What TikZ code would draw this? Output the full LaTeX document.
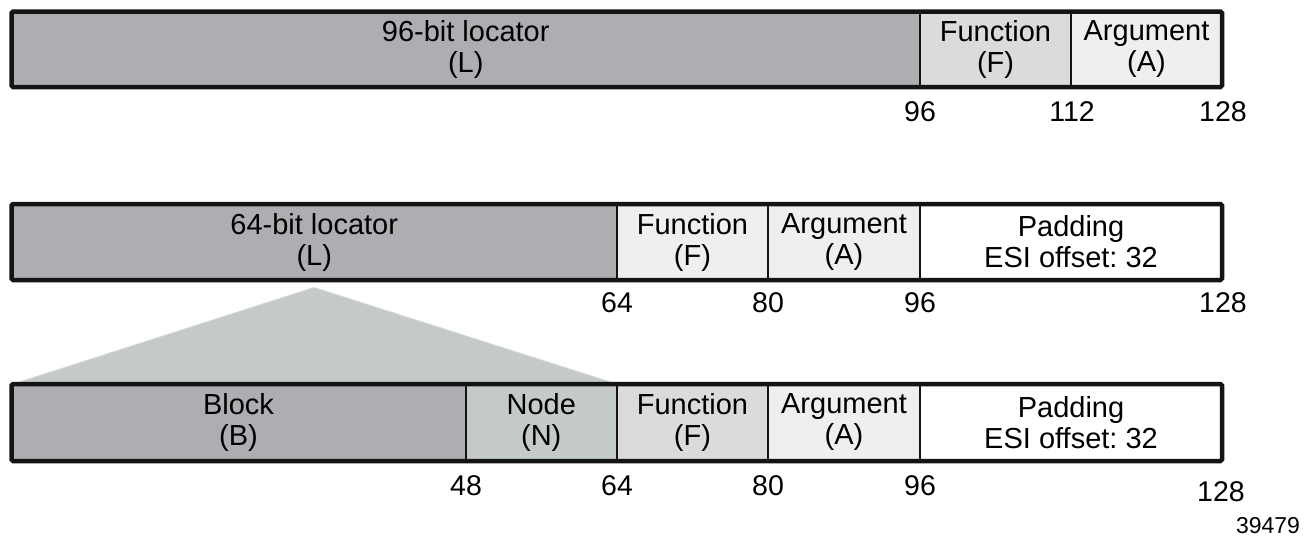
\documentclass[tikz,border=0pt]{standalone}
\usepackage{fontspec}
\setmainfont{Liberation Sans}
\frenchspacing
\definecolor{loccol}{HTML}{AEADB2}
\definecolor{nodecol}{HTML}{C4C9C9}
\definecolor{funcol}{HTML}{DBDBDB}
\definecolor{argcol}{HTML}{EFEFEF}
\definecolor{tricol}{HTML}{C4C9C9}
\definecolor{triedge}{HTML}{D6D9D9}
\definecolor{linecol}{HTML}{141414}
\begin{document}
\begin{tikzpicture}[x=1pt,y=-1pt,
  cell/.style={rectangle, inner sep=0pt, outer sep=0pt, align=center,
    font=\fontsize{29}{31}\selectfont},
  divider/.style={draw=linecol, line width=2pt},
  outerbox/.style={draw=linecol, line width=4.5pt, rounded corners=1.5pt},
  numlabel/.style={inner sep=0pt, font=\fontsize{28.5}{28.5}\selectfont},
  figid/.style={inner sep=0pt, font=\fontsize{23}{23}\selectfont},
  tri/.style={fill=tricol, draw=triedge, line width=2pt, line join=round}
]
\useasboundingbox (0,0) rectangle (1308,538);

% Row 1
\node[cell, fill=loccol, minimum width=908.5pt, minimum height=75.5pt] (L1) at (465.75,49.25) {96-bit locator\\(L)};
\node[cell, fill=funcol, minimum width=151pt, minimum height=75.5pt] (F1) at (995.5,49.25) {Function\\(F)};
\node[cell, fill=argcol, minimum width=151pt, minimum height=75.5pt] (A1) at (1146.5,49.25) {Argument\\(A)};
\draw[divider] (F1.north west) -- (F1.south west);
\draw[divider] (A1.north west) -- (A1.south west);
\draw[outerbox] (L1.north west) rectangle (A1.south east);
\node[numlabel] (n1a) at (920,112) {96};
\node[numlabel] (n1b) at (1072,112) {112};
\node[numlabel] (n1c) at (1223,112) {128};

% Row 2
\node[cell, fill=loccol, minimum width=605.5pt, minimum height=76pt] (L2) at (314.25,242) {64-bit locator\\(L)};
\node[cell, fill=argcol, minimum width=151pt, minimum height=76pt] (F2) at (692.5,242) {Function\\(F)};
\node[cell, fill=argcol, minimum width=152pt, minimum height=76pt] (A2) at (844,242) {Argument\\(A)};
\node[cell, fill=white, minimum width=302pt, minimum height=76pt] (P2) at (1071,242) {Padding\\ESI offset: 32};
\draw[divider] (F2.north west) -- (F2.south west);
\draw[divider] (A2.north west) -- (A2.south west);
\draw[divider] (P2.north west) -- (P2.south west);
\draw[outerbox] (L2.north west) rectangle (P2.south east);
\node[numlabel] (n2a) at (617,303) {64};
\node[numlabel] (n2b) at (768,303) {80};
\node[numlabel] (n2c) at (920,303) {96};
\node[numlabel] (n2d) at (1223,303) {128};

% Expansion triangle
\coordinate (apex) at (314,288);
\coordinate (bl) at (15,384);
\coordinate (br) at (615,384);
\path[tri] (bl) -- (apex) -- (br);
\fill[tricol] (bl) -- (apex) -- (br) -- cycle;

% Row 3
\node[cell, fill=loccol, minimum width=454pt, minimum height=77pt] (B3) at (238.5,422.5) {Block\\(B)};
\node[cell, fill=nodecol, minimum width=151.5pt, minimum height=77pt] (N3) at (541.25,422.5) {Node\\(N)};
\node[cell, fill=funcol, minimum width=151pt, minimum height=77pt] (F3) at (692.5,422.5) {Function\\(F)};
\node[cell, fill=argcol, minimum width=152pt, minimum height=77pt] (A3) at (844,422.5) {Argument\\(A)};
\node[cell, fill=white, minimum width=302pt, minimum height=77pt] (P3) at (1071,422.5) {Padding\\ESI offset: 32};
\draw[divider] (N3.north west) -- (N3.south west);
\draw[divider] (F3.north west) -- (F3.south west);
\draw[divider] (A3.north west) -- (A3.south west);
\draw[divider] (P3.north west) -- (P3.south west);
\draw[outerbox] (B3.north west) rectangle (P3.south east);
\node[numlabel] (n3a) at (466,486) {48};
\node[numlabel] (n3b) at (617,486) {64};
\node[numlabel] (n3c) at (768,486) {80};
\node[numlabel] (n3d) at (920,486) {96};
\node[numlabel] (n3e) at (1221,492) {128};
\node[figid] (fid) at (1268,526) {39479};
\end{tikzpicture}
\end{document}
